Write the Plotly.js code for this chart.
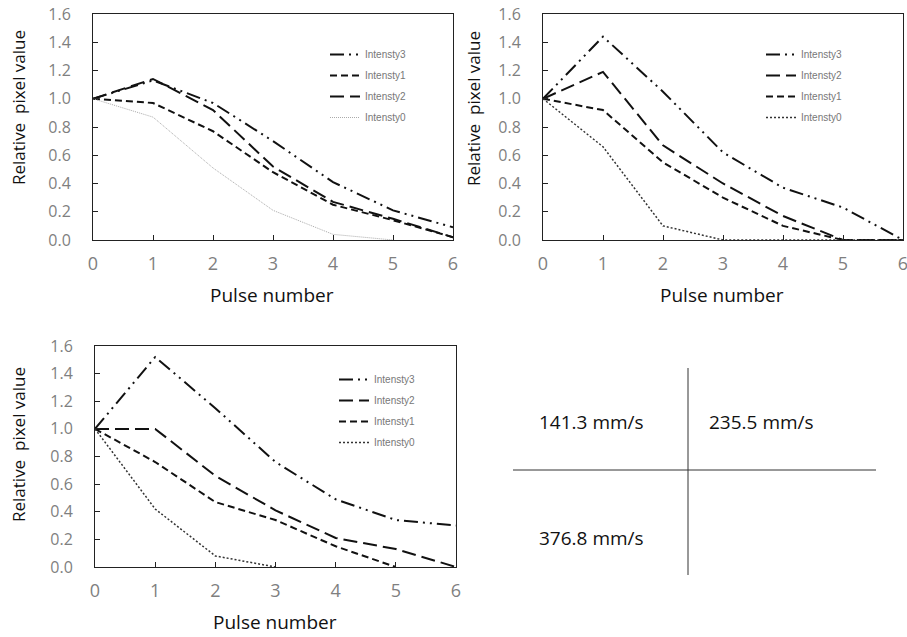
<!DOCTYPE html>
<html>
<head>
<meta charset="utf-8">
<script src="https://cdn.plot.ly/plotly-3.0.1.min.js"></script>
<style>html,body{margin:0;padding:0;background:#fff;}#chart{width:907px;height:637px;}</style>
</head>
<body>
<div id="chart"></div>
<script>
// ---- data ----
const pulses = [0, 1, 2, 3, 4, 5, 6];
const yTicks = [0, 0.2, 0.4, 0.6, 0.8, 1.0, 1.2, 1.4, 1.6];
const yTickText = ["0.0", "0.2", "0.4", "0.6", "0.8", "1.0", "1.2", "1.4", "1.6"];
const xTicks = [0, 1, 2, 3, 4, 5, 6];

// Panel 1 (141.3 mm/s)
const p1Intensty3 = [1.0, 1.13, 0.97, 0.70, 0.41, 0.21, 0.09];
const p1Intensty1 = [1.0, 0.97, 0.77, 0.48, 0.25, 0.14, 0.02];
const p1Intensty2 = [1.0, 1.14, 0.92, 0.52, 0.27, 0.15, 0.02];
const p1Intensty0 = [1.0, 0.87, 0.51, 0.21, 0.04, 0.0, null];

// Panel 2 (235.5 mm/s)
const p2Intensty3 = [1.0, 1.44, 1.05, 0.62, 0.37, 0.23, 0.0];
const p2Intensty2 = [1.0, 1.19, 0.67, 0.40, 0.17, 0.0, 0.0];
const p2Intensty1 = [1.0, 0.92, 0.55, 0.30, 0.10, 0.0, 0.0];
const p2Intensty0 = [1.0, 0.66, 0.10, 0.0, 0.0, 0.0, 0.0];

// Panel 3 (376.8 mm/s)
const p3Intensty3 = [1.0, 1.52, 1.15, 0.76, 0.49, 0.34, 0.30];
const p3Intensty2 = [1.0, 1.0, 0.66, 0.41, 0.21, 0.13, 0.0];
const p3Intensty1 = [1.0, 0.76, 0.47, 0.34, 0.15, 0.0, null];
const p3Intensty0 = [1.0, 0.42, 0.08, 0.0, null, null, null];

const speedLabels = ["141.3 mm/s", "235.5 mm/s", "376.8 mm/s"];
const xTitle = "Pulse number";
const yTitle = "Relative  pixel value";

// ---- styles ----
const dashStyles = {
  Intensty3: {dash: "14px,5px,2px,5px,2px,5px", width: 2, color: "#111"},
  Intensty2: {dash: "14px,6px", width: 2, color: "#111"},
  Intensty1: {dash: "7px,4px", width: 2, color: "#111"},
  Intensty0: {dash: "2px,2px", width: 1.5, color: "#333"}
};

let gid = 0;
function tr(name, y, xa, ya, lg, override) {
  const s = Object.assign({}, dashStyles[name], override || {});
  gid += 1;
  return {
    x: pulses, y: y, name: name, type: "scatter", mode: "lines",
    xaxis: xa, yaxis: ya, legend: lg, legendgroup: "g" + gid,
    line: {dash: s.dash, width: s.width, color: s.color},
    connectgaps: false
  };
}

const data = [
  tr("Intensty3", p1Intensty3, "x", "y", "legend"),
  tr("Intensty1", p1Intensty1, "x", "y", "legend"),
  tr("Intensty2", p1Intensty2, "x", "y", "legend"),
  tr("Intensty0", p1Intensty0, "x", "y", "legend", {color: "#aaa", width: 1, dash: "1px,1px"}),

  tr("Intensty3", p2Intensty3, "x2", "y2", "legend2"),
  tr("Intensty2", p2Intensty2, "x2", "y2", "legend2"),
  tr("Intensty1", p2Intensty1, "x2", "y2", "legend2"),
  tr("Intensty0", p2Intensty0, "x2", "y2", "legend2"),

  tr("Intensty3", p3Intensty3, "x3", "y3", "legend3"),
  tr("Intensty2", p3Intensty2, "x3", "y3", "legend3"),
  tr("Intensty1", p3Intensty1, "x3", "y3", "legend3"),
  tr("Intensty0", p3Intensty0, "x3", "y3", "legend3")
];

const W = 907, H = 637;
const px = v => v / W;
const py = v => 1 - v / H;

const fam = "Open Sans, Lato, sans-serif";

function xAxis(l, r, anchor) {
  return {
    domain: [px(l), px(r)], anchor: anchor, range: [0, 6], tickvals: xTicks,
    ticks: "inside", ticklen: 5, tickcolor: "#222", showgrid: false, zeroline: false,
    showline: true, linecolor: "#222", linewidth: 1, mirror: true,
    tickfont: {family: fam, size: 18, color: "#7f7f7f"}, ticklabelstandoff: 7,
    ticklabeloverflow: "allow", fixedrange: true
  };
}
function yAxis(t, b, anchor) {
  return {
    domain: [py(b), py(t)], anchor: anchor, range: [0, 1.6], tickvals: yTicks, ticktext: yTickText,
    ticks: "inside", ticklen: 5, tickcolor: "#222", showgrid: false, zeroline: false,
    showline: true, linecolor: "#222", linewidth: 1, mirror: true,
    tickfont: {family: fam, size: 16, color: "#7f7f7f"}, ticklabelstandoff: 18,
    ticklabeloverflow: "allow", fixedrange: true
  };
}

function legendAt(x, y) {
  return {
    x: px(x), y: py(y), xanchor: "left", yanchor: "top",
    bgcolor: "rgba(0,0,0,0)", borderwidth: 0,
    font: {family: "Liberation Sans, Arial, sans-serif", size: 10, color: "#777"},
    traceorder: "grouped", tracegroupgap: 2, itemwidth: 30
  };
}

function ann(text, x, y, size, opts) {
  return Object.assign({text: text, x: px(x), y: py(y), xref: "paper", yref: "paper",
    showarrow: false, font: {family: fam, size: size, color: "#111"},
    xanchor: "center", yanchor: "middle"}, opts || {});
}

const annotations = [
  ann(xTitle, 272, 295, 19),
  ann(xTitle, 722, 295, 19),
  ann(xTitle, 275, 622, 19),
  ann(yTitle, 18, 108, 17, {textangle: -90}),
  ann(yTitle, 473, 108, 17, {textangle: -90}),
  ann(yTitle, 18, 445, 17, {textangle: -90}),
  ann(speedLabels[0], 537, 422, 19, {xanchor: "left"}),
  ann(speedLabels[1], 707, 422, 19, {xanchor: "left"}),
  ann(speedLabels[2], 537, 538, 19, {xanchor: "left"})
];

const shapes = [
  {type: "line", xref: "paper", yref: "paper", x0: px(688), x1: px(688), y0: py(368), y1: py(575), line: {color: "#333", width: 1}},
  {type: "line", xref: "paper", yref: "paper", x0: px(513), x1: px(876), y0: py(470), y1: py(470), line: {color: "#333", width: 1}}
];

const layout = {
  width: W, height: H,
  margin: {l: 0, r: 0, t: 0, b: 0},
  paper_bgcolor: "#fff", plot_bgcolor: "#fff",
  showlegend: true,
  xaxis: xAxis(93, 453, "y"),
  yaxis: yAxis(14, 240, "x"),
  xaxis2: xAxis(543, 903, "y2"),
  yaxis2: yAxis(14, 240, "x2"),
  xaxis3: xAxis(95, 456, "y3"),
  yaxis3: yAxis(346, 567, "x3"),
  legend: legendAt(325, 40),
  legend2: legendAt(761, 40),
  legend3: legendAt(334, 365),
  annotations: annotations,
  shapes: shapes
};

Plotly.newPlot("chart", data, layout, {displayModeBar: false, staticPlot: true});
</script>
</body>
</html>
